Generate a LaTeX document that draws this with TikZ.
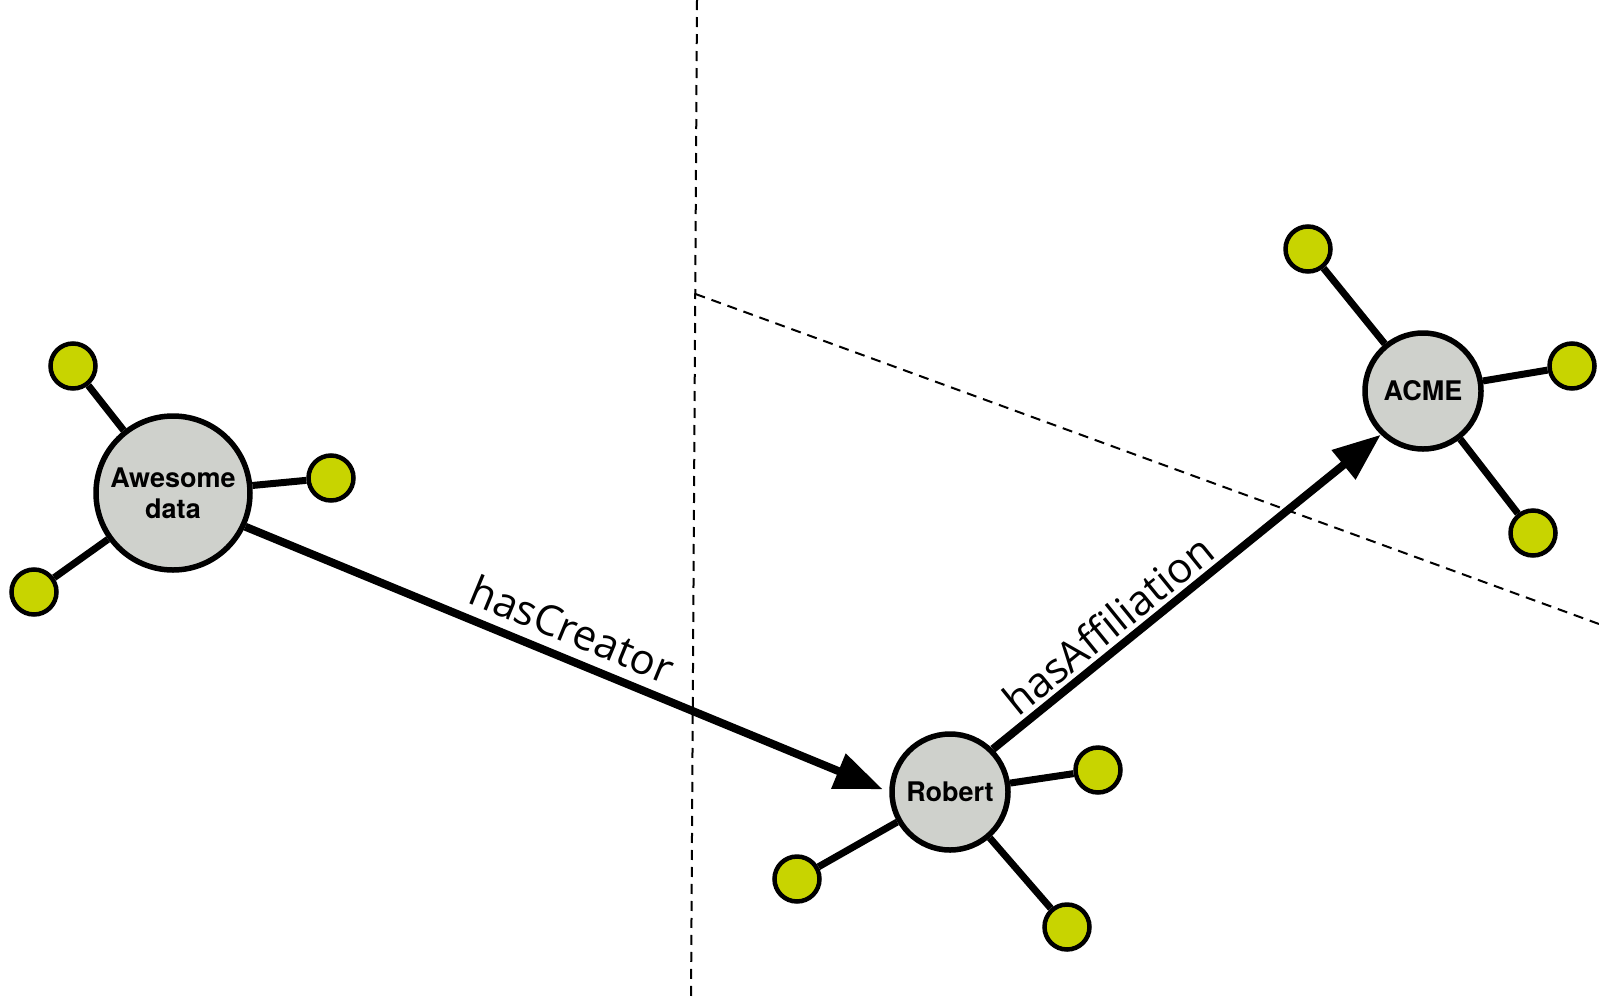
\documentclass[tikz,border=0pt]{standalone}
\usepackage{fontspec}
\setmainfont{TeX Gyre Heros}
\newfontfamily\edgefont{Open Sans}
\usetikzlibrary{arrows.meta}
\definecolor{hubgray}{RGB}{207,209,204}
\definecolor{leafgreen}{RGB}{200,212,0}
\begin{document}
\begin{tikzpicture}[x=1pt,y=-1pt,
  hubnode/.style={circle, draw=black, line width=5.5pt, fill=hubgray, inner sep=0pt,
    font=\fontsize{27}{31}\selectfont\bfseries, align=center},
  leafnode/.style={circle, draw=black, line width=4.5pt, fill=leafgreen, inner sep=0pt, minimum size=45pt},
  spoke/.style={line width=7pt},
  relation/.style={line width=8pt, -{Triangle[length=48pt,width=36pt]}},
  rellabel/.style={font=\edgefont\fontsize{42}{50}\selectfont, sloped, above, inner sep=10pt},
  divider/.style={line width=2pt, dash pattern=on 10pt off 7pt}]
\useasboundingbox (0,0) rectangle (1599,1002);
% dividers
\coordinate (vtop) at (697,0);
\coordinate (vbot) at (691,1002);
\coordinate (sstart) at (695.5,294);
\coordinate (send) at (1599,624);
\draw[divider] (vtop) -- (vbot);
\draw[divider] (sstart) -- (send);
% hubs
\node[hubnode, minimum size=154pt] (aw) at (173,493) {Awesome\\data};
\node[hubnode, minimum size=116pt] (rob) at (950,792) {Robert};
\node[hubnode, minimum size=116pt] (acme) at (1423,391) {ACME};
% leaves
\node[leafnode] (aw1) at (73,366) {};
\node[leafnode] (aw2) at (331,478) {};
\node[leafnode] (aw3) at (34,592) {};
\node[leafnode] (rob1) at (1098,770) {};
\node[leafnode] (rob2) at (797,879) {};
\node[leafnode] (rob3) at (1067,927) {};
\node[leafnode] (acme1) at (1308,249) {};
\node[leafnode] (acme2) at (1572,366) {};
\node[leafnode] (acme3) at (1533,533) {};
% spokes
\draw[spoke] (aw) -- (aw1);
\draw[spoke] (aw) -- (aw2);
\draw[spoke] (aw) -- (aw3);
\draw[spoke] (rob) -- (rob1);
\draw[spoke] (rob) -- (rob2);
\draw[spoke] (rob) -- (rob3);
\draw[spoke] (acme) -- (acme1);
\draw[spoke] (acme) -- (acme2);
\draw[spoke] (acme) -- (acme3);
% relations
\draw[relation, shorten >=7pt] (aw.-25) -- node[rellabel, pos=0.49] {hasCreator} (rob.west);
\draw[relation] (rob.45) -- node[rellabel, pos=0.335, inner sep=4pt] {hasAffiliation} (acme.226);
\end{tikzpicture}
\end{document}
